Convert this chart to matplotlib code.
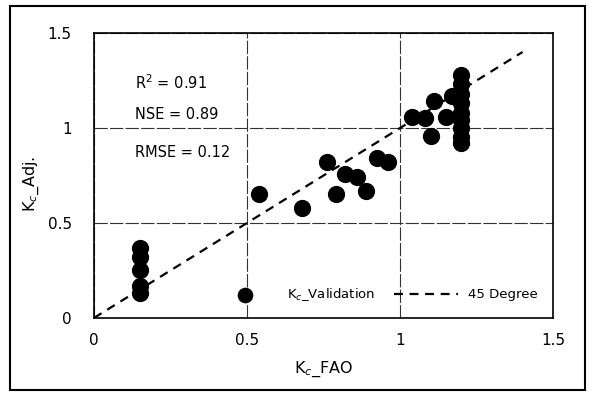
import matplotlib
matplotlib.use("Agg")
import matplotlib.pyplot as plt
from matplotlib.patches import Rectangle

# Kc values
kc_fao = [0.15, 0.15, 0.15, 0.15, 0.15,
          0.54, 0.68, 0.76, 0.79, 0.82, 0.86, 0.89, 0.925, 0.96,
          1.04, 1.08, 1.10, 1.11, 1.15, 1.17,
          1.20, 1.20, 1.20, 1.20, 1.20, 1.20, 1.20, 1.20, 1.20]
kc_adj = [0.37, 0.32, 0.25, 0.17, 0.13,
          0.65, 0.58, 0.82, 0.65, 0.76, 0.74, 0.67, 0.84, 0.82,
          1.06, 1.05, 0.96, 1.14, 1.06, 1.17,
          1.28, 1.23, 1.18, 1.13, 1.08, 1.04, 1.00, 0.95, 0.92]
line_45 = [0, 1.4]
ticks = [0, 0.5, 1, 1.5]
tick_labels = ["0", "0.5", "1", "1.5"]
stats = ["R$^2$ = 0.91", "NSE = 0.89", "RMSE = 0.12"]
stats_y = [1.24, 1.07, 0.87]

plt.rcParams["font.family"] = ["DejaVu Sans"]
plt.rcParams["mathtext.fontset"] = "dejavusans"

fig = plt.figure(figsize=(5.91, 3.93), dpi=100)
ax = fig.add_axes([0.159, 0.191, 0.777, 0.725])

# outer frame around the whole figure
fig.patches.append(Rectangle((10 / 591, 3 / 393), 575 / 591, 384 / 393,
                             transform=fig.transFigure, fill=False,
                             edgecolor="black", lw=1.5))

ax.scatter(kc_fao, kc_adj, s=130, color="black", zorder=3,
           label="K$_c$_Validation")
ax.plot(line_45, line_45, color="black", lw=1.6, ls=(0, (4, 3)),
        label="45 Degree", zorder=2)

for txt, y in zip(stats, stats_y):
    ax.text(0.134, y, txt, fontsize=10.5, va="center", ha="left")

ax.set_xlim(0, 1.5)
ax.set_ylim(0, 1.5)
ax.set_xticks(ticks)
ax.set_xticklabels(tick_labels)
ax.set_yticks(ticks)
ax.set_yticklabels(tick_labels)
ax.tick_params(length=0, labelsize=11, pad=11)
ax.tick_params(axis="y", pad=16)

ax.grid(True, color="#333333", lw=0.8, ls=(0, (12, 2)))
ax.set_axisbelow(True)
for sp in ax.spines.values():
    sp.set_linewidth(1.2)

ax.set_xlabel("K$_c$_FAO", fontsize=11.5)
ax.set_ylabel("K$_c$_Adj.", fontsize=11.5)
ax.xaxis.set_label_coords(0.5, -0.147)
ax.yaxis.set_label_coords(-0.115, 0.47)

ax.legend(loc="lower right", bbox_to_anchor=(0.99, 0.015), ncol=2,
          frameon=False, fontsize=9.5, handlelength=4.9, columnspacing=1.4,
          handletextpad=0.75, markerscale=0.9, borderpad=0.3)

fig.savefig("out.png", dpi=100)
